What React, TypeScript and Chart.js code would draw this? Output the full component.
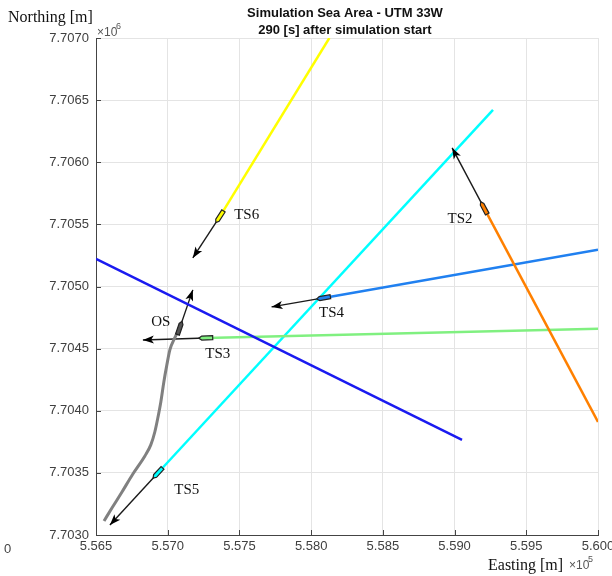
import React, { useEffect, useRef } from "react";
import { Chart, registerables } from "chart.js";

Chart.register(...registerables);

// Axis ticks
const X_MIN = 556500;
const X_MAX = 560000;
const X_STEP = 500;
const Y_MIN = 7703000;
const Y_MAX = 7707000;
const Y_STEP = 500;

// Own ship (OS) track
const OS_X = [556556, 556611, 556681, 556757, 556841, 556882, 556910, 556931, 556952, 556973, 556994, 557015, 557049, 557084];
const OS_Y = [7703113, 7703217, 7703346, 7703491, 7703636, 7703725, 7703829, 7703942, 7704071, 7704232, 7704369, 7704490, 7704586, 7704667];
const OS_ARROW = [557175, 7704973];

// Target ships
const TS_NAMES = ["TS2", "TS3", "TS4", "TS5", "TS6"];
const TS_POS_X = [559205, 557265, 558086, 556931, 557362];
const TS_POS_Y = [7705633, 7704586, 7704908, 7703499, 7705561];
const TS_TRACK_END_X = [560000, 560000, 560000, 559268, 558127];
const TS_TRACK_END_Y = [7703910, 7704659, 7705295, 7706422, 7707000];
const TS_ARROW_X = [558983, 556827, 557724, 556597, 557175];
const TS_ARROW_Y = [7706116, 7704570, 7704836, 7703080, 7705230];
const TS_COLORS = ["#ff8000", "#80f080", "#2080f0", "#00ffff", "#ffff00"];

// Planned route line
const ROUTE_X = [556500, 559052];
const ROUTE_Y = [7705222, 7703765];

const LABEL_OFFSETS: Record<string, [number, number]> = {
  TS2: [-24, 11],
  TS3: [12, 16],
  TS4: [8, 15],
  TS5: [29, 17],
  TS6: [27, -2],
  OS: [-19, -6],
};

export default function App() {
  const ref = useRef<HTMLCanvasElement | null>(null);

  useEffect(() => {
    if (!ref.current) return;
    const datasets: any[] = [];

    datasets.push({
      label: "route",
      data: ROUTE_X.map((x, i) => ({ x, y: ROUTE_Y[i] })),
      borderColor: "#1a1af0",
      borderWidth: 2.5,
      showLine: true,
      pointRadius: 0,
    });

    TS_NAMES.forEach((n, i) => {
      datasets.push({
        label: n + " track",
        data: [
          { x: TS_POS_X[i], y: TS_POS_Y[i] },
          { x: TS_TRACK_END_X[i], y: TS_TRACK_END_Y[i] },
        ],
        borderColor: TS_COLORS[i],
        borderWidth: 2.5,
        showLine: true,
        pointRadius: 0,
      });
    });

    datasets.push({
      label: "OS track",
      data: OS_X.map((x, i) => ({ x, y: OS_Y[i] })),
      borderColor: "#808080",
      borderWidth: 3,
      showLine: true,
      pointRadius: 0,
      cubicInterpolationMode: "monotone",
    });

    const arrows: { from: [number, number]; to: [number, number] }[] = [];
    TS_NAMES.forEach((n, i) => {
      arrows.push({ from: [TS_POS_X[i], TS_POS_Y[i]], to: [TS_ARROW_X[i], TS_ARROW_Y[i]] });
    });
    arrows.push({
      from: [OS_X[OS_X.length - 1], OS_Y[OS_Y.length - 1]],
      to: [OS_ARROW[0], OS_ARROW[1]],
    });

    arrows.forEach((a, i) => {
      datasets.push({
        label: "arrow" + i,
        data: [
          { x: a.from[0], y: a.from[1] },
          { x: a.to[0], y: a.to[1] },
        ],
        borderColor: "#1a1a1a",
        borderWidth: 1.4,
        showLine: true,
        pointRadius: 0,
      });
    });

    const overlay = {
      id: "overlay",
      afterDatasetsDraw(chart: any) {
        const ctx = chart.ctx;
        const xs = chart.scales.x;
        const ys = chart.scales.y;
        const px = (v: number) => xs.getPixelForValue(v);
        const py = (v: number) => ys.getPixelForValue(v);

        // arrowheads
        arrows.forEach((a) => {
          const x0 = px(a.from[0]), y0 = py(a.from[1]);
          const x1 = px(a.to[0]), y1 = py(a.to[1]);
          const ang = Math.atan2(y1 - y0, x1 - x0);
          const L = 11, W = 4;
          ctx.save();
          ctx.translate(x1, y1);
          ctx.rotate(ang);
          ctx.beginPath();
          ctx.moveTo(0, 0);
          ctx.lineTo(-L, -W);
          ctx.lineTo(-L * 0.75, 0);
          ctx.lineTo(-L, W);
          ctx.closePath();
          ctx.fillStyle = "#000";
          ctx.fill();
          ctx.restore();
        });

        // hulls
        const drawHull = (x: number, y: number, tx: number, ty: number, color: string) => {
          const ang = Math.atan2(ty - y, tx - x);
          ctx.save();
          ctx.translate(x, y);
          ctx.rotate(ang);
          ctx.beginPath();
          ctx.moveTo(-7, -2);
          ctx.lineTo(4, -2);
          ctx.lineTo(7, 0);
          ctx.lineTo(4, 2);
          ctx.lineTo(-7, 2);
          ctx.closePath();
          ctx.fillStyle = color;
          ctx.fill();
          ctx.lineWidth = 1.2;
          ctx.strokeStyle = "#222";
          ctx.stroke();
          ctx.restore();
        };
        TS_NAMES.forEach((n, i) => {
          drawHull(px(TS_POS_X[i]), py(TS_POS_Y[i]), px(TS_ARROW_X[i]), py(TS_ARROW_Y[i]), TS_COLORS[i]);
        });
        const oi = OS_X.length - 1;
        drawHull(px(OS_X[oi]), py(OS_Y[oi]), px(OS_ARROW[0]), py(OS_ARROW[1]), "#555");

        // ship labels
        ctx.save();
        ctx.font = '15px "Liberation Serif", "DejaVu Serif", serif';
        ctx.fillStyle = "#111";
        ctx.textAlign = "center";
        ctx.textBaseline = "middle";
        TS_NAMES.forEach((n, i) => {
          const o = LABEL_OFFSETS[n];
          ctx.fillText(n, px(TS_POS_X[i]) + o[0], py(TS_POS_Y[i]) + o[1]);
        });
        const oo = LABEL_OFFSETS.OS;
        ctx.fillText("OS", px(OS_X[oi]) + oo[0], py(OS_Y[oi]) + oo[1]);
        ctx.restore();
      },
      afterDraw(chart: any) {
        const ctx = chart.ctx;
        const area = chart.chartArea;
        ctx.save();
        // title
        ctx.fillStyle = "#111";
        ctx.textAlign = "center";
        ctx.textBaseline = "middle";
        ctx.font = 'bold 13px "Liberation Sans", Arial, sans-serif';
        ctx.fillText("Simulation Sea Area - UTM 33W", 345, 13);
        ctx.fillText("290 [s] after simulation start", 345, 30);
        // axis labels
        ctx.font = '16px "Liberation Serif", "DejaVu Serif", serif';
        ctx.textAlign = "left";
        ctx.fillText("Northing [m]", 8, 18);
        ctx.fillText("Easting [m]", 488, 566);
        // exponents
        ctx.fillStyle = "#555";
        ctx.font = '12px "Liberation Sans", Arial, sans-serif';
        ctx.fillText("\u00d710", area.left + 1, area.top - 5);
        ctx.font = '9px "Liberation Sans", Arial, sans-serif';
        ctx.fillText("6", area.left + 20, area.top - 11);
        ctx.font = '12px "Liberation Sans", Arial, sans-serif';
        ctx.fillText("\u00d710", 569, 566);
        ctx.font = '9px "Liberation Sans", Arial, sans-serif';
        ctx.fillText("5", 588, 560);
        ctx.font = '13px "Liberation Sans", Arial, sans-serif';
        ctx.fillStyle = "#444";
        ctx.fillText("0", 4, 549);
        // inward ticks
        ctx.strokeStyle = "#444";
        ctx.lineWidth = 1;
        const xs = chart.scales.x;
        const ys = chart.scales.y;
        ctx.beginPath();
        for (let v = X_MIN; v <= X_MAX; v += X_STEP) {
          const x = Math.round(xs.getPixelForValue(v)) + 0.5;
          ctx.moveTo(x, area.bottom);
          ctx.lineTo(x, area.bottom - 5);
        }
        for (let v = Y_MIN; v <= Y_MAX; v += Y_STEP) {
          const y = Math.round(ys.getPixelForValue(v)) + 0.5;
          ctx.moveTo(area.left, y);
          ctx.lineTo(area.left + 5, y);
        }
        ctx.stroke();
        ctx.restore();
      },
    };

    const chart = new Chart(ref.current, {
      type: "scatter",
      data: { datasets },
      options: {
        responsive: false,
        animation: false,
        layout: { padding: { left: 0, right: 14, top: 38, bottom: 0 } },
        plugins: {
          legend: { display: false },
          tooltip: { enabled: false },
          title: { display: false },
        },
        scales: {
          x: {
            type: "linear",
            min: X_MIN,
            max: X_MAX,
            afterFit: (s: any) => {
              s.height = 41;
              s.paddingLeft = 0;
              s.paddingRight = 0;
            },
            ticks: {
              stepSize: X_STEP,
              color: "#404040",
              font: { family: '"Liberation Sans", Arial, sans-serif', size: 13 },
              padding: 4,
              maxRotation: 0,
              callback: (v: any) => (Number(v) / 1e5).toFixed(3),
            },
            grid: { color: "#e4e4e4", drawTicks: false },
            border: { color: "#444", width: 1 },
          },
          y: {
            type: "linear",
            min: Y_MIN,
            max: Y_MAX,
            afterFit: (s: any) => {
              s.width = 96;
              s.paddingTop = 0;
              s.paddingBottom = 0;
            },
            ticks: {
              stepSize: Y_STEP,
              color: "#404040",
              font: { family: '"Liberation Sans", Arial, sans-serif', size: 13 },
              padding: 7,
              callback: (v: any) => (Number(v) / 1e6).toFixed(4),
            },
            grid: { color: "#e4e4e4", drawTicks: false },
            border: { color: "#444", width: 1 },
          },
        },
      },
      plugins: [overlay],
    });
    return () => chart.destroy();
  }, []);

  return (
    <div style={{ position: "absolute", left: 0, top: 0, width: 612, height: 576, background: "#fff" }}>
      <canvas ref={ref} width={612} height={576} style={{ width: 612, height: 576 }} />
    </div>
  );
}
